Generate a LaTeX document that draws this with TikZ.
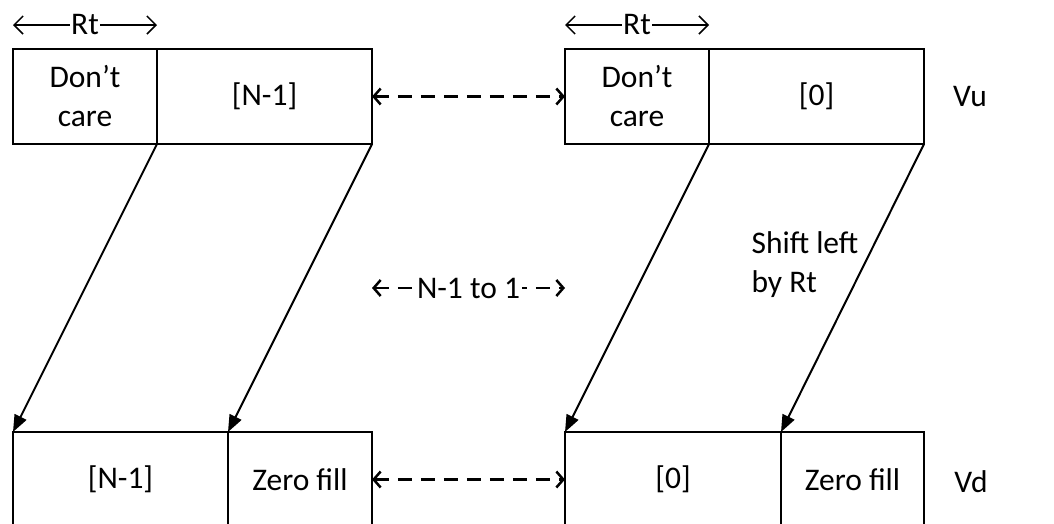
\documentclass[tikz,border=0pt]{standalone}
\usepackage{fontspec}
\setmainfont{Carlito}
\usetikzlibrary{arrows.meta}
\begin{document}
\begin{tikzpicture}[x=1pt,y=-1pt,
  lbl/.style={font=\fontsize{31.5}{39}\selectfont},
  box/.style={lbl,draw,line width=2pt,minimum height=95pt,inner sep=0pt,outer sep=0pt,align=center},
  shiftarrow/.style={-{Triangle[length=17pt,width=13pt]},line width=2pt},
  swaparrow/.style={{Straight Barb[length=7pt,width=16pt]}-{Straight Barb[length=7pt,width=16pt]},line width=2.5pt,dash pattern=on 14pt off 9pt},
  rtarrow/.style={{Straight Barb[length=9pt,width=18pt]}-{Straight Barb[length=9pt,width=18pt]},line width=1.5pt}]
\useasboundingbox (0,0) rectangle (1054,523);
\clip (0,0) rectangle (1054,523);
% top row (Vu)
\node[box,minimum width=144pt] (dcL) at (85,96.5) {Don’t\\care};
\node[box,minimum width=215pt] (nL) at (264.5,96.5) {[N-1]};
\node[box,minimum width=144pt] (dcR) at (637,96.5) {Don’t\\care};
\node[box,minimum width=215pt] (zR) at (816.5,96.5) {[0]};
% bottom row (Vd)
\node[box,minimum width=215pt] (nLb) at (120.5,479.5) {[N-1]};
\node[box,minimum width=144pt] (zLb) at (300,479.5) {Zero fill};
\node[box,minimum width=216pt] (zRb) at (673,479.5) {[0]};
\node[box,minimum width=143pt] (fRb) at (852.5,479.5) {Zero fill};
% shift arrows
\draw[shiftarrow] (dcL.south east) -- (nLb.north west);
\draw[shiftarrow] (nL.south east) -- (zLb.north west);
\draw[shiftarrow] (dcR.south east) -- (zRb.north west);
\draw[shiftarrow] (zR.south east) -- (fRb.north west);
% dashed swaps
\draw[swaparrow] (nL.east) -- (dcR.west);
\draw[swaparrow] (zLb.east) -- (zRb.west);
% Rt markers
\coordinate (rtLa) at (13,25);
\coordinate (rtLb) at (157,25);
\coordinate (rtRa) at (565,25);
\coordinate (rtRb) at (709,25);
\draw[rtarrow] (rtLa) -- node[lbl,fill=white,inner sep=1pt] (rtL) {Rt} (rtLb);
\draw[rtarrow] (rtRa) -- node[lbl,fill=white,inner sep=1pt] (rtR) {Rt} (rtRb);
% N-1 to 1
\coordinate (nra) at (372,288);
\coordinate (nrb) at (565,288);
\draw[swaparrow] (nra) -- node[lbl,fill=white,inner sep=2pt] (nrange) {N-1 to 1} (nrb);
% labels
\node[lbl] (vu) at (970,97) {Vu};
\node[lbl] (vd) at (971,482) {Vd};
\node[lbl,align=left,anchor=west] (shift) at (748,265) {Shift left\\by Rt};
\end{tikzpicture}
\end{document}
